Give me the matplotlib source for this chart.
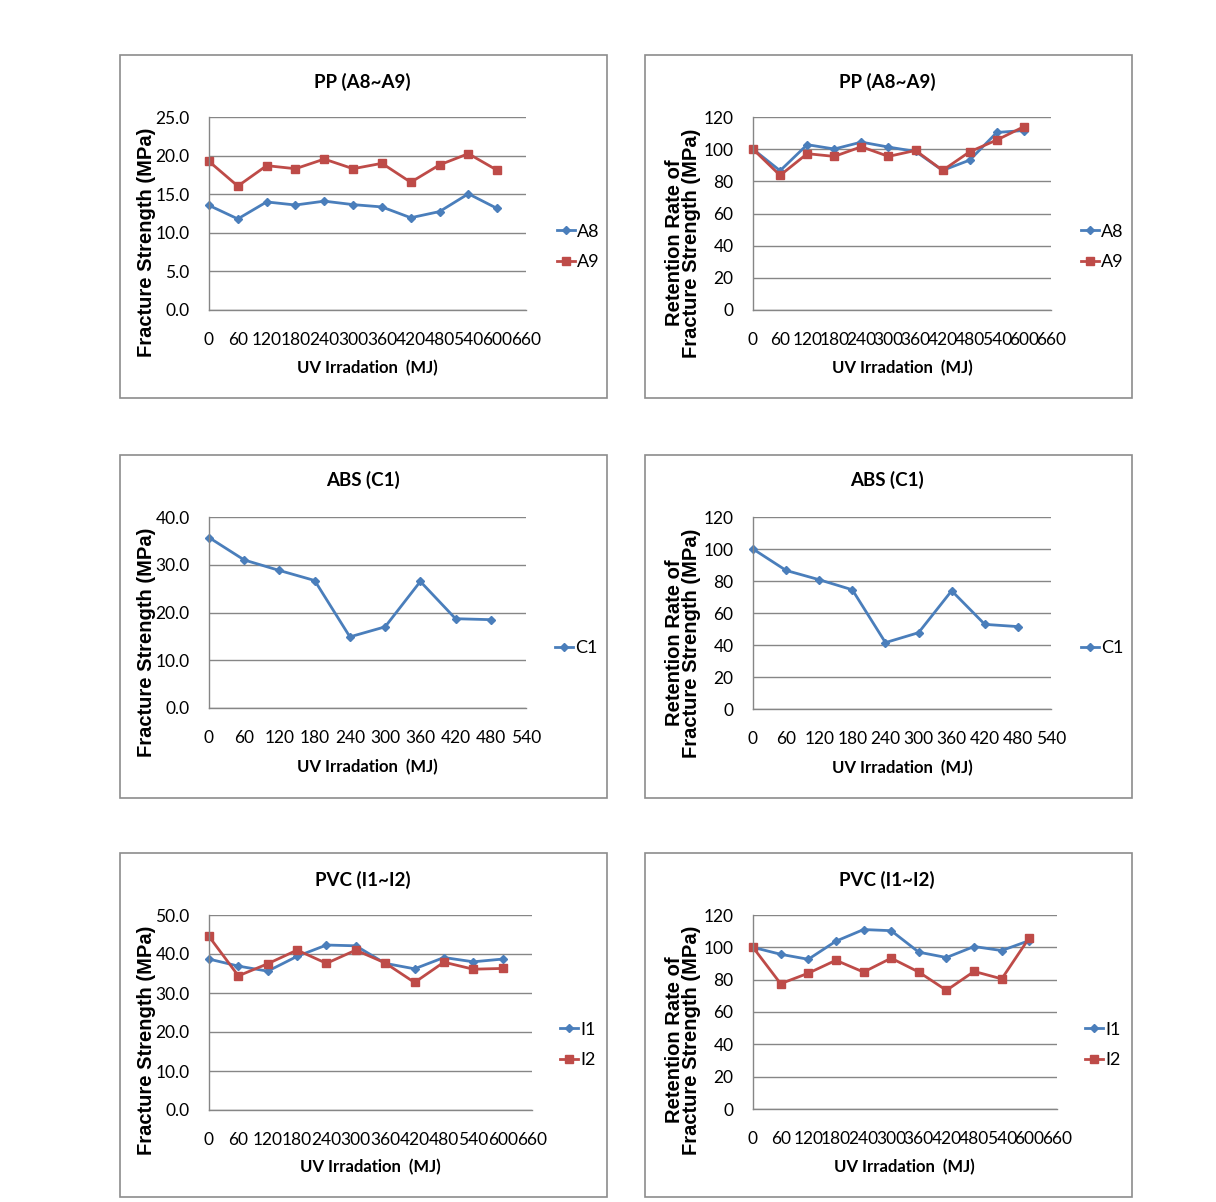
import matplotlib
matplotlib.use("Agg")
import matplotlib.pyplot as plt
from matplotlib.patches import Rectangle
from matplotlib.ticker import FormatStrFormatter

W, H = 1216, 1202

BLUE = "#4A7EBB"
RED = "#BE4B48"
GRID = "#868686"
FRAME = "#8C8C8C"
CAL = ["Lato", "DejaVu Sans"]          # closest thing to Calibri here
ARIAL = ["Liberation Sans", "DejaVu Sans"]

# ---- data ----
uv_pp = [0, 60, 120, 180, 240, 300, 360, 420, 480, 540, 600]
uv_abs = [0, 60, 120, 180, 240, 300, 360, 420, 480]
uv_pvc = [0, 60, 120, 180, 240, 300, 360, 420, 480, 540, 600]

pp_a8 = [13.55, 11.8, 14.0, 13.6, 14.1, 13.65, 13.35, 11.95, 12.75, 15.05, 13.15]
pp_a9 = [19.25, 16.05, 18.7, 18.3, 19.55, 18.3, 19.0, 16.55, 18.8, 20.25, 18.1]
pp_a8_ret = [100, 86.6, 102.8, 100.1, 104.4, 101.3, 98.6, 86.8, 93.2, 110.4, 111.6]
pp_a9_ret = [100, 83.7, 97.2, 95.5, 101.5, 95.5, 99.2, 86.8, 98.4, 105.7, 114.0]

abs_c1 = [35.7, 31.0, 28.8, 26.7, 14.9, 17.0, 26.5, 18.7, 18.5]
abs_c1_ret = [100, 86.6, 80.8, 74.5, 41.5, 47.7, 73.9, 52.9, 51.5]

pvc_i1 = [38.7, 36.9, 35.6, 39.4, 42.3, 42.1, 37.6, 36.2, 39.1, 38.0, 38.7]
pvc_i2 = [44.5, 34.4, 37.5, 41.0, 37.6, 41.0, 37.7, 32.7, 37.9, 36.1, 36.3]
pvc_i1_ret = [100, 95.7, 92.6, 103.8, 111.0, 110.3, 97.0, 93.7, 100.5, 98.0, 104.2]
pvc_i2_ret = [100, 77.5, 84.0, 92.0, 84.7, 93.3, 84.7, 73.4, 85.1, 80.5, 106.0]

x_ticks_660 = list(range(0, 661, 60))
x_ticks_540 = list(range(0, 541, 60))

YLAB_FS = "Fracture Strength (MPa)"
YLAB_RR = "Retention Rate of\nFracture Strength (MPa)"

fig = plt.figure(figsize=(W / 100, H / 100), dpi=100)
fig.patch.set_facecolor("white")


def fx(x):
    return x / W


def fy(y):
    return 1 - y / H


def panel(box, plot, title, title_xy, xlab_xy, ylab, ylab_x, ylab_y,
          xticks, yticks, yfmt, series, leg_xy):
    bx0, by0, bx1, by1 = box
    fig.add_artist(Rectangle((fx(bx0), fy(by1)), fx(bx1 - bx0), (by1 - by0) / H,
                             transform=fig.transFigure, fill=False,
                             edgecolor=FRAME, linewidth=1.2))
    px0, py0, px1, py1 = plot
    ax = fig.add_axes([fx(px0), fy(py1), fx(px1 - px0), (py1 - py0) / H])
    for x, y, name, color, marker, ms in series:
        ax.plot(x, y, color=color, lw=2.0, marker=marker, ms=ms,
                markeredgecolor=color, label=name, clip_on=False)
    ax.set_xlim(xticks[0], xticks[-1])
    ax.set_ylim(yticks[0], yticks[-1])
    ax.set_xticks(xticks)
    ax.set_yticks(yticks)
    ax.yaxis.set_major_formatter(FormatStrFormatter(yfmt))
    ax.grid(axis="y", color=GRID, lw=1.0)
    ax.set_axisbelow(True)
    for s in ("top", "right"):
        ax.spines[s].set_visible(False)
    for s in ("left", "bottom"):
        ax.spines[s].set_color(GRID)
        ax.spines[s].set_linewidth(1.0)
    ax.tick_params(length=0, labelsize=12.5, pad=14)
    ax.tick_params(axis="x", pad=16)
    for lab in ax.get_xticklabels() + ax.get_yticklabels():
        lab.set_family(CAL)

    fig.text(fx(title_xy[0]), fy(title_xy[1]), title, ha="center", va="center",
             fontsize=13.5, fontweight="bold", family=CAL)
    fig.text(fx(xlab_xy[0]), fy(xlab_xy[1]), "UV Irradation  (MJ)", ha="center",
             va="center", fontsize=12, fontweight="bold", family=CAL)
    fig.text(fx(ylab_x), fy(ylab_y), ylab, ha="center", va="center", rotation=90,
             fontsize=14.5, fontweight="bold", family=ARIAL, linespacing=0.9,
             multialignment="center")

    ax.legend(loc="center left", bbox_to_anchor=(fx(leg_xy[0]), fy(leg_xy[1])),
              bbox_transform=fig.transFigure, frameon=False, borderpad=0,
              borderaxespad=0, handlelength=1.0, handletextpad=0.12,
              labelspacing=0.8, prop={"family": CAL, "size": 13})
    return ax


# PP
panel((120, 55, 607, 398), (209, 117, 526, 310), "PP (A8~A9)", (362, 82),
      (367, 368), YLAB_FS, 146, 242, x_ticks_660, [0, 5, 10, 15, 20, 25], "%.1f",
      [(uv_pp, pp_a8, "A8", BLUE, "D", 4.2), (uv_pp, pp_a9, "A9", RED, "s", 5.5)],
      (557, 247))
panel((645, 55, 1132, 398), (753, 117, 1051, 310), "PP (A8~A9)", (887, 82),
      (902, 368), YLAB_RR, 683, 243, x_ticks_660, list(range(0, 121, 20)), "%d",
      [(uv_pp, pp_a8_ret, "A8", BLUE, "D", 4.2), (uv_pp, pp_a9_ret, "A9", RED, "s", 5.5)],
      (1081, 247))

# ABS
panel((120, 455, 607, 798), (209, 517, 526, 708), "ABS (C1)", (363, 480),
      (367, 767), YLAB_FS, 146, 642, x_ticks_540, [0, 10, 20, 30, 40], "%.1f",
      [(uv_abs, abs_c1, "C1", BLUE, "D", 4.2)], (555, 648))
panel((645, 455, 1132, 798), (753, 517, 1051, 709), "ABS (C1)", (887, 480),
      (902, 768), YLAB_RR, 683, 643, x_ticks_540, list(range(0, 121, 20)), "%d",
      [(uv_abs, abs_c1_ret, "C1", BLUE, "D", 4.2)], (1081, 648))

# PVC
panel((120, 853, 607, 1197), (209, 915, 532, 1110), "PVC (I1~I2)", (363, 880),
      (370, 1167), YLAB_FS, 146, 1040, x_ticks_660, [0, 10, 20, 30, 40, 50], "%.1f",
      [(uv_pvc, pvc_i1, "I1", BLUE, "D", 4.2), (uv_pvc, pvc_i2, "I2", RED, "s", 5.5)],
      (560, 1045))
panel((645, 853, 1132, 1197), (753, 915, 1057, 1109), "PVC (I1~I2)", (887, 880),
      (904, 1167), YLAB_RR, 683, 1040, x_ticks_660, list(range(0, 121, 20)), "%d",
      [(uv_pvc, pvc_i1_ret, "I1", BLUE, "D", 4.2), (uv_pvc, pvc_i2_ret, "I2", RED, "s", 5.5)],
      (1085, 1045))

fig.savefig("out.png", dpi=100, facecolor="white")
